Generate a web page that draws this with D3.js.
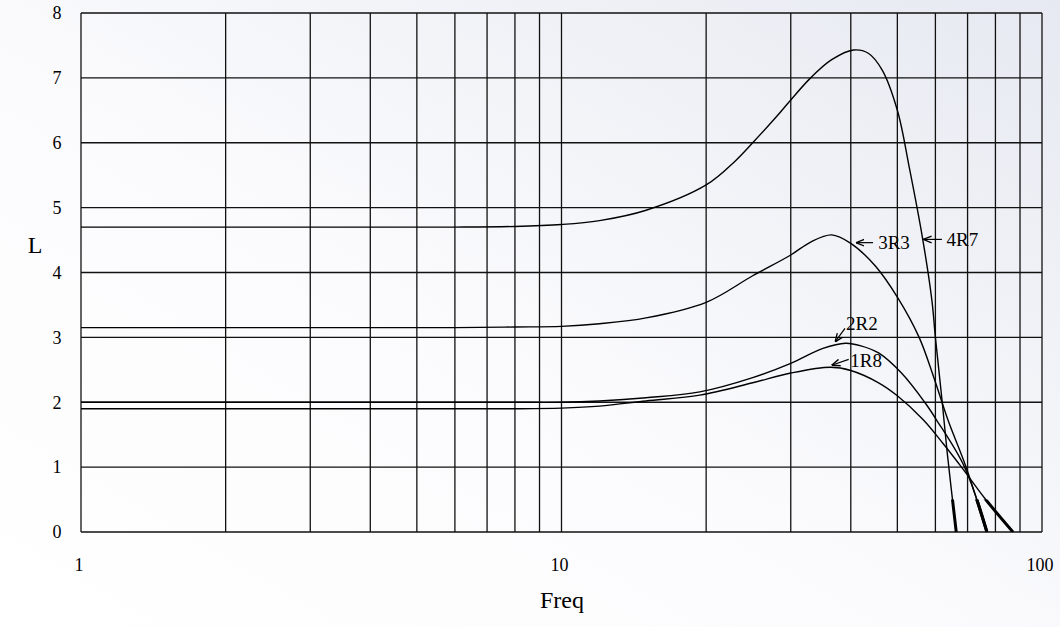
<!DOCTYPE html>
<html>
<head>
<meta charset="utf-8">
<script src="https://cdn.jsdelivr.net/npm/d3@7"></script>
<style>
  html, body { margin: 0; padding: 0; background: #fff; }
  svg { display: block; font-family: "Liberation Serif", "DejaVu Serif", serif; }
</style>
</head>
<body>
<svg id="chart" width="1060" height="627"></svg>
<script>
// --- chart data ---
const xTickLabels = [1, 10, 100];
const yTickLabels = [0, 1, 2, 3, 4, 5, 6, 7, 8];

const freq4R7 = [1, 3, 6, 8, 10, 12, 15, 20, 23, 25, 28, 30, 33, 36.5, 40.5, 43.5, 46.5, 50, 53, 56.5, 59, 60, 62, 63.5, 66.3];
const val4R7  = [4.7, 4.7, 4.7, 4.71, 4.74, 4.8, 4.96, 5.35, 5.72, 6.0, 6.4, 6.66, 7.0, 7.28, 7.43, 7.38, 7.12, 6.5, 5.6, 4.5, 3.57, 3.0, 2.0, 1.22, 0];

const freq3R3 = [1, 3, 6, 8, 10, 12, 15, 20, 25, 30, 33, 36.5, 40, 45, 50, 55.5, 59.5, 63.7, 69.5, 76.8];
const val3R3  = [3.15, 3.15, 3.15, 3.16, 3.17, 3.21, 3.3, 3.54, 3.95, 4.27, 4.47, 4.58, 4.45, 4.1, 3.62, 3.0, 2.39, 1.73, 1.0, 0];

const freq2R2 = [1, 3, 6, 8, 10, 12, 15, 19.4, 25, 30, 35, 39, 42, 45.7, 51, 57, 60.3, 69, 76.8];
const val2R2  = [2.0, 2.0, 2.0, 2.0, 2.0, 2.02, 2.07, 2.16, 2.38, 2.6, 2.83, 2.91, 2.87, 2.76, 2.45, 2.0, 1.73, 1.0, 0];

const freq1R8 = [1, 3, 6, 8, 10, 12, 15, 19.4, 25, 30, 36.3, 40, 45.7, 50, 56.6, 62, 68, 76, 87];
const val1R8  = [1.9, 1.9, 1.9, 1.9, 1.91, 1.94, 2.02, 2.11, 2.3, 2.45, 2.54, 2.49, 2.3, 2.1, 1.73, 1.38, 1.0, 0.52, 0];

// curve labels: text anchor (freq, L), arrow tail and tip (freq, L)
const labelNames = ['4R7', '3R3', '2R2', '1R8'];
const labelText  = [[63.3, 4.41], [45.6, 4.36], [39.1, 3.11], [39.9, 2.55]];
const arrowTail  = [[61.9, 4.51], [44.5, 4.46], [38.9, 3.14], [39.6, 2.66]];
const arrowTip   = [[56.6, 4.51], [41.0, 4.46], [37.1, 2.93], [36.5, 2.57]];

const series = [
  { name: '4R7', f: freq4R7, v: val4R7 },
  { name: '3R3', f: freq3R3, v: val3R3 },
  { name: '2R2', f: freq2R2, v: val2R2 },
  { name: '1R8', f: freq1R8, v: val1R8 },
];

// --- layout ---
const svg = d3.select('#chart');
const x = d3.scaleLog().domain([1, 100]).range([81, 1042]);
const y = d3.scaleLinear().domain([0, 8]).range([532, 13]);

// pale scanned-page background
const defs = svg.append('defs');
const bg = defs.append('linearGradient').attr('id', 'bg')
  .attr('x1', '0%').attr('y1', '100%').attr('x2', '100%').attr('y2', '0%');
bg.append('stop').attr('offset', '0%').attr('stop-color', '#ffffff');
bg.append('stop').attr('offset', '45%').attr('stop-color', '#fbfbfd');
bg.append('stop').attr('offset', '100%').attr('stop-color', '#e6e9f1');
svg.append('rect').attr('width', 1060).attr('height', 627).attr('fill', 'url(#bg)');

defs.append('marker').attr('id', 'arrow')
  .attr('viewBox', '0 0 10 10').attr('refX', 10).attr('refY', 5)
  .attr('markerWidth', 7).attr('markerHeight', 7).attr('orient', 'auto')
  .append('path').attr('d', 'M0,1 L10,5 L0,9').attr('fill', 'none')
  .attr('stroke', '#000').attr('stroke-width', 1.6);

// grid
const xGrid = d3.range(1, 10).concat(d3.range(10, 101, 10));
const grid = svg.append('g').attr('stroke', '#111').attr('stroke-width', 1.3);
grid.selectAll('line.v').data(xGrid).join('line').attr('class', 'v')
  .attr('x1', d => x(d)).attr('x2', d => x(d)).attr('y1', y(0)).attr('y2', y(8));
grid.selectAll('line.h').data(yTickLabels).join('line').attr('class', 'h')
  .attr('x1', x(1)).attr('x2', x(100)).attr('y1', d => y(d)).attr('y2', d => y(d));

// tick labels
svg.append('g').selectAll('text').data(yTickLabels).join('text')
  .attr('x', 57).attr('y', d => y(d)).attr('dy', '0.35em')
  .attr('text-anchor', 'middle').attr('font-size', 18).text(d => d);
svg.append('g').selectAll('text').data(xTickLabels).join('text')
  .attr('x', d => x(d) - 2).attr('y', 565).attr('dy', '0.35em')
  .attr('text-anchor', 'middle').attr('font-size', 18).text(d => d);

// axis titles
svg.append('text').attr('x', 35).attr('y', 245).attr('dy', '0.35em')
  .attr('text-anchor', 'middle').attr('font-size', 24).text('L');
svg.append('text').attr('x', 562).attr('y', 600).attr('dy', '0.35em')
  .attr('text-anchor', 'middle').attr('font-size', 24).text('Freq');

// curves
const line = d3.line()
  .x(d => x(d[0]))
  .y(d => y(d[1]))
  .curve(d3.curveCatmullRom.alpha(0.5));

svg.append('g').selectAll('path').data(series).join('path')
  .attr('d', s => line(s.f.map((f, i) => [f, s.v[i]])))
  .attr('fill', 'none').attr('stroke', '#000').attr('stroke-width', 1.4);

// heavier ink near the baseline (as in the scan)
defs.append('clipPath').attr('id', 'lowband').append('rect')
  .attr('x', x(1)).attr('y', y(0.5)).attr('width', x(100) - x(1)).attr('height', y(0) - y(0.5));
svg.append('g').attr('clip-path', 'url(#lowband)').selectAll('path').data(series).join('path')
  .attr('d', s => line(s.f.map((f, i) => [f, s.v[i]])))
  .attr('fill', 'none').attr('stroke', '#000').attr('stroke-width', 3);

// labels with arrows
const ann = svg.append('g');
ann.selectAll('line').data(labelNames).join('line')
  .attr('x1', (d, i) => x(arrowTail[i][0])).attr('y1', (d, i) => y(arrowTail[i][1]))
  .attr('x2', (d, i) => x(arrowTip[i][0])).attr('y2', (d, i) => y(arrowTip[i][1]))
  .attr('stroke', '#000').attr('stroke-width', 1.2).attr('marker-end', 'url(#arrow)');
ann.selectAll('text').data(labelNames).join('text')
  .attr('x', (d, i) => x(labelText[i][0])).attr('y', (d, i) => y(labelText[i][1]))
  .attr('font-size', 19).text(d => d);
</script>
</body>
</html>
